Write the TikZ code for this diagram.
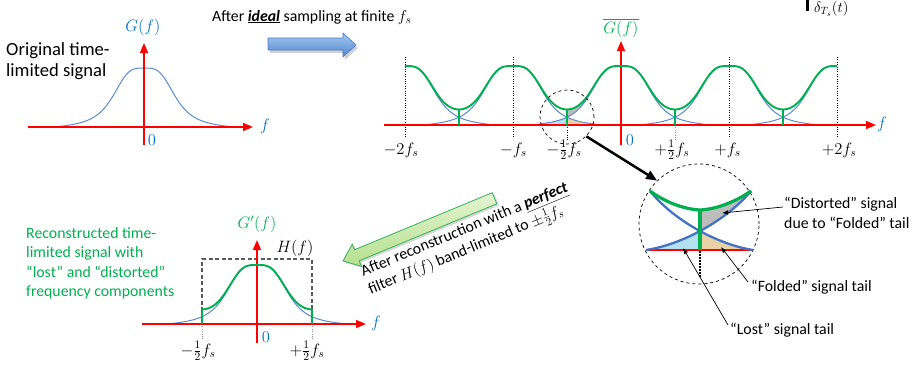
\documentclass[tikz,border=0pt]{standalone}
\usepackage{fix-cm}
\usepackage{fontspec}
\setmainfont{Carlito}
\usetikzlibrary{arrows.meta}
\definecolor{ared}{HTML}{FF0000}
\definecolor{cblue}{HTML}{5A8AD0}
\definecolor{iblue}{HTML}{4472C4}
\definecolor{lblue}{HTML}{0070C0}
\definecolor{cgreen}{HTML}{00B050}
\definecolor{fgray}{HTML}{BDBDBD}
\definecolor{ftan}{HTML}{E9D3A6}
\definecolor{fcyan}{HTML}{B3E1EF}
\definecolor{btop}{HTML}{A7C8EE}
\definecolor{bbot}{HTML}{4F86D0}
\definecolor{bedge}{HTML}{4A7EC4}
\definecolor{gtop}{HTML}{E4F4D2}
\definecolor{gbot}{HTML}{B5E08E}
\definecolor{gedge}{HTML}{33B25A}
\begin{document}
\begin{tikzpicture}[x=1pt,y=-1pt,
  declare function={gu(\d)=min(max(abs(\d),0.5),90);
    gr(\d)=gu(\d)/32; gq(\d)=gu(\d)/90;
    g(\d)=59*(1-gq(\d)*gq(\d)*gq(\d)*gq(\d)*gq(\d)*gq(\d))/(1+gr(\d)*gr(\d)*gr(\d)*sqrt(gr(\d)));},
  axis/.style={ared,line width=1.6,-{Triangle[length=10pt,width=8pt]}},
  curve/.style={cblue,line width=1},
  gcurve/.style={cgreen,line width=1.9},
  dotline/.style={black,line width=0.8,dash pattern=on 1pt off 1.4pt},
  gdot/.style={black!45,line width=0.8,dash pattern=on 1pt off 1.4pt},
  lbl/.style={font=\fontsize{16.5}{19}\selectfont,inner sep=0},
  txt/.style={font=\fontsize{15.8}{19.5}\selectfont,inner sep=0,align=left},
  ann/.style={black,line width=0.7,-{Latex[length=6pt,width=4.5pt]}},
  circ/.style={circle,draw,black,dashed,line width=0.7,inner sep=0}]
\useasboundingbox (0,0) rectangle (917,373);

% ---------- top-left: original spectrum ----------
\node[font=\fontsize{18.6}{21.5}\selectfont,align=left,anchor=north west,inner sep=0] (orig) at (6,42) {Original time-\\limited signal};
\draw[curve] plot[domain=54:234,samples=140] (\x,{127-g(\x-144)});
\draw[axis] (28,127) -- (253,127);
\draw[axis] (144,145) -- (144,43);
\node[lbl,text=lblue] (gl) at (143,27) {$G(f)$};
\node[lbl,text=lblue] (fl) at (265,126) {$f$};
\node[lbl,text=lblue] (zl) at (152,140) {$0$};

% ---------- top arrow ----------
\node[font=\fontsize{15.8}{18}\selectfont,anchor=west,inner sep=0] (t1) at (212,17) {After \underline{\textbf{\textit{ideal}}} sampling at finite $f_s$};
\fill[black!30,opacity=0.6] (270,41) -- (345,41) -- (345,36) -- (358,48) -- (345,60) -- (345,53) -- (270,53) -- cycle;
\shade[top color=btop,bottom color=bbot,draw=bedge,line width=0.6] (268,38) -- (343,38) -- (343,33) -- (356,45) -- (343,57) -- (343,50) -- (268,50) -- cycle;

% ---------- top right: sampled spectrum ----------
\node[lbl,text=cgreen] (gbar) at (621,28) {$\overline{G(f)}$};
\draw[line width=3] (807,0) -- (807,11);
\node[font=\fontsize{15}{17}\selectfont,inner sep=0,anchor=west] (dlt) at (814,9) {$\delta_{T_s}(t)$};

% fills at -fs/2
\fill[fcyan] (531,125) -- plot[domain=531:567,samples=30] (\x,{125-g(\x-621)}) -- (567,125) -- cycle;
\fill[ftan] (567,125) -- plot[domain=567:603,samples=30] (\x,{125-g(\x-513)}) -- (603,125) -- cycle;
\fill[fgray] plot[domain=567:603,samples=30] (\x,{125-g(\x-513)-g(\x-621)}) -- plot[domain=603:567,samples=30] (\x,{125-g(\x-621)}) -- cycle;

% blue copies
\draw[curve] plot[domain=405:495,samples=60] (\x,{125-g(\x-405)});
\draw[curve] plot[domain=423:603,samples=120] (\x,{125-g(\x-513)});
\draw[curve] plot[domain=531:711,samples=120] (\x,{125-g(\x-621)});
\draw[curve] plot[domain=639:819,samples=120] (\x,{125-g(\x-729)});
\draw[curve] plot[domain=747:837,samples=60] (\x,{125-g(\x-837)});

% dotted markers
\foreach \c in {405,513,729,837} \draw[dotline] (\c,57) -- (\c,138);
\draw[dotline] (567,125) -- (567,140);
\draw[gdot] (675,125) -- (675,140);

\draw[axis] (384,125) -- (876,125);
\draw[axis] (621,145) -- (621,41);

% green sum
\draw[gcurve] plot[domain=405:837,samples=400] (\x,{125-g(\x-405)-g(\x-513)-g(\x-621)-g(\x-729)-g(\x-837)});
\foreach \h in {459,567,675,783} \draw[cgreen,line width=1.5] (\h,125) -- (\h,{125-2*g(54)});

\node[lbl,text=lblue] (f2) at (882,124) {$f$};
\node[lbl,text=lblue] (z2) at (630,140) {$0$};
\node[lbl] (m2) at (401,150) {$-2f_s$};
\node[lbl] (m1) at (513.5,150) {$-f_s$};
\node[lbl] (mh) at (564,150) {$-\frac{1}{2}f_s$};
\node[lbl] (ph) at (672,150) {$+\frac{1}{2}f_s$};
\node[lbl] (p1) at (727.5,150) {$+f_s$};
\node[lbl] (p2) at (839,150) {$+2f_s$};

% ---------- zoom circles ----------
\node[circ,minimum size=54pt] (zs) at (567,117) {};
\node[circ,minimum size=120pt] (zb) at (699,224) {};
\draw[line width=2.5,-{Triangle[length=11pt,width=9pt]}] (zs.-45) -- (zb.134);

% inset content
\begin{scope}
\clip (700,150) rectangle (770,260);
\fill[fgray] (700,210) .. controls (717,209) and (735,202) .. (751,191) .. controls (725,222) and (680,245) .. (647,250) -- cycle;
\fill[ftan] (650,191) .. controls (675,222) and (720,245) .. (753,250) -- (650,250) -- cycle;
\end{scope}
\begin{scope}
\clip (630,150) rectangle (700,260);
\fill[fcyan] (647,250) .. controls (680,245) and (725,222) .. (751,191) -- (751,250) -- cycle;
\end{scope}
\draw[ared,line width=2.5] (646,250) -- (753,250);
\draw[iblue,line width=2.3] (650,191) .. controls (675,222) and (720,245) .. (753,250);
\draw[iblue,line width=2.3] (646,250) .. controls (680,245) and (725,222) .. (751,191);
\draw[cgreen,line width=3.2] (650,191) .. controls (665,202) and (683,209) .. (700,210) .. controls (717,209) and (735,202) .. (751,191);
\draw[cgreen,line width=3.2] (700,210) -- (700,250);
\draw[black,line width=2,dash pattern=on 1.5pt off 1.5pt] (700,251) -- (700,278);

% annotations
\coordinate (tD) at (722,213);
\coordinate (tF) at (721,247);
\coordinate (tL) at (683,248);
\node[txt,anchor=north west] (dist) at (784,197) {“Distorted” signal\\due to “Folded” tail};
\node[txt,anchor=west] (fold) at (751,287) {“Folded” signal tail};
\node[txt,anchor=west] (lost) at (730,330) {“Lost” signal tail};
\draw[ann] ([xshift=-1pt,yshift=-10pt]dist.north west) -- (tD);
\draw[ann] ([xshift=-3pt,yshift=5pt]fold.west) -- (tF);
\draw[ann] ([xshift=-2pt,yshift=5pt]lost.west) -- (tL);

% ---------- green arrow ----------
\begin{scope}[shift={(343,261)},rotate=22.5]
\fill[black!30,opacity=0.5] (1.5,2.5) -- (16.5,-9.5) -- (16.5,-3.5) -- (165.5,-3.5) -- (165.5,8.5) -- (16.5,8.5) -- (16.5,14.5) -- cycle;
\shade[top color=gtop,bottom color=gbot,draw=gedge,line width=0.8] (0,0) -- (15,-12) -- (15,-6) -- (164,-6) -- (164,6) -- (15,6) -- (15,12) -- cycle;
\end{scope}
\node[txt,rotate=22.5,anchor=north west] (rt) at (359,266) {After reconstruction with a \underline{\textbf{\textit{perfect}}}\\filter $H(f)$ band-limited to $\pm\frac{1}{2}f_s$};

% ---------- bottom: reconstructed ----------
\node[txt,text=cgreen,anchor=north west] (rec) at (26,227) {Reconstructed time-\\limited signal with\\“lost” and “distorted”\\frequency components};
\draw[curve] plot[domain=167:347,samples=140] (\x,{324-g(\x-257)});
\draw[black!65,line width=1.2,dash pattern=on 4pt off 2.5pt] (202,324) -- (202,259) -- (312,259) -- (312,324);
\draw[gdot] (202,324) -- (202,340);
\draw[gdot] (312,324) -- (312,340);
\draw[axis] (142,324) -- (366,324);
\draw[axis] (257,343) -- (257,240);
\draw[gcurve] plot[domain=202:312,samples=150] (\x,{324-g(\x-257)-g(\x-147)-g(\x-367)});
\draw[cgreen,line width=1.5] (202,324) -- (202,{324-2*g(55)});
\draw[cgreen,line width=1.5] (312,324) -- (312,{324-2*g(55)});
\node[lbl,text=cgreen] (gp) at (257,224) {$G'(f)$};
\node[lbl] (hl) at (295,248) {$H(f)$};
\node[lbl,text=lblue] (f3) at (376,323) {$f$};
\node[lbl,text=lblue] (z3) at (266,337) {$0$};
\node[lbl] (bm) at (198,351) {$-\frac{1}{2}f_s$};
\node[lbl] (bp) at (307,351) {$+\frac{1}{2}f_s$};
\end{tikzpicture}
\end{document}
